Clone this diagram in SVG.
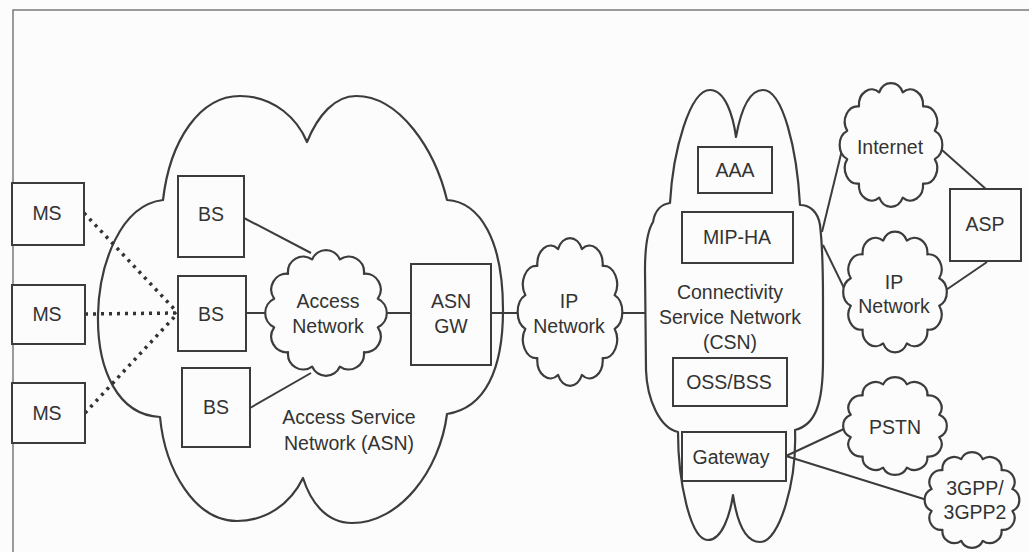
<svg xmlns="http://www.w3.org/2000/svg" xmlns:xlink="http://www.w3.org/1999/xlink" width="1029" height="552" viewBox="0 0 1029 552">
  <style>
    .frame { fill: none; stroke: #7a7a7a; stroke-width: 1.5; }
    .box { fill: #fcfcfc; stroke: #3c3c3c; stroke-width: 2; }
    .cloud { fill: #fcfcfc; stroke: #3c3c3c; stroke-width: 2.2; stroke-linejoin: round; }
    .big { fill: none; stroke: #3c3c3c; stroke-width: 2.2; stroke-linejoin: round; }
    .link { fill: none; stroke: #3c3c3c; stroke-width: 2; }
    .radio { fill: none; stroke: #333; stroke-width: 3.5; stroke-dasharray: 3 5; }
    text { font-family: "Liberation Sans", Arial, sans-serif; font-size: 19.5px; fill: #333; text-anchor: middle; dominant-baseline: central; }
  </style>
  <defs>
    <!-- scalloped cloud, outer radius about 50, centred on the origin -->
    <path id="cloud" class="cloud" vector-effect="non-scaling-stroke"
      d="M42.5,-11.39 A12.5,12.5 0 0 1 42.5,11.39 A12.5,12.5 0 0 1 31.11,31.11 A12.5,12.5 0 0 1 11.39,42.5 A12.5,12.5 0 0 1 -11.39,42.5 A12.5,12.5 0 0 1 -31.11,31.11 A12.5,12.5 0 0 1 -42.5,11.39 A12.5,12.5 0 0 1 -42.5,-11.39 A12.5,12.5 0 0 1 -31.11,-31.11 A12.5,12.5 0 0 1 -11.39,-42.5 A12.5,12.5 0 0 1 11.39,-42.5 A12.5,12.5 0 0 1 31.11,-31.11 A12.5,12.5 0 0 1 42.5,-11.39 Z"/>
  </defs>

  <rect width="1029" height="552" fill="#fcfcfc"/>
  <path class="frame" d="M13,552 L13,10 L1029,10"/>

  <!-- large domains -->
  <g id="asn">
    <path class="big" d="M163,200 C170,140 200,96 240,96 C275,96 298,120 307,142 C318,115 335,96 356,96 C400,96 435,150 447,200 C480,202 503,240 503,310 C503,370 485,408 447,414 C440,470 400,523 352,523 C325,523 310,500 303,478 C290,505 265,521 237,521 C195,521 165,470 160,417 C118,415 97,370 98,315 C99,265 120,205 163,200 Z"/>
    <text x="349" y="417">Access Service</text>
    <text x="349" y="443">Network (ASN)</text>
  </g>
  <g id="csn">
    <path class="big" d="M653,222 C655,210 662,204 670,203 C673,150 690,90 710,90 C725,90 733,115 736,137 C740,115 748,90 763,90 C783,90 797,150 800,205 C810,205 818,212 820,225 C823,250 823,270 823,300 L823,360 C823,405 815,425 795,430 C797,480 780,542 760,542 C743,542 736,515 733,495 C730,515 722,540 708,540 C690,540 678,480 678,432 C660,428 647,400 646,370 L645,270 C645,245 648,230 653,222 Z"/>
    <text x="730" y="292">Connectivity</text>
    <text x="730" y="317">Service Network</text>
    <text x="730" y="342">(CSN)</text>
  </g>

  <!-- connectors -->
  <g id="connectors">
    <path class="radio" d="M84,213 L178,313"/>
    <path class="radio" d="M85,314 L178,313"/>
    <path class="radio" d="M85,413 L178,313"/>
    <path class="link" d="M244,218 L311,253"/>
    <path class="link" d="M246,313 L266,313"/>
    <path class="link" d="M250,408 L311,373"/>
    <path class="link" d="M387,313 L411,313"/>
    <path class="link" d="M491,313 L519,313"/>
    <path class="link" d="M622,313 L645,313"/>
    <path class="link" d="M822,232 L842,150"/>
    <path class="link" d="M823,245 L845,290"/>
    <path class="link" d="M942,150 L987,190"/>
    <path class="link" d="M946,290 L987,262"/>
    <path class="link" d="M786,456 L846,428"/>
    <path class="link" d="M786,456 L927,500"/>
  </g>

  <!-- mobile stations -->
  <g id="ms1"><rect class="box" x="12" y="183" width="72" height="62"/><text x="47" y="213">MS</text></g>
  <g id="ms2"><rect class="box" x="12" y="285" width="73" height="59"/><text x="47" y="314">MS</text></g>
  <g id="ms3"><rect class="box" x="12" y="383" width="73" height="60"/><text x="47" y="413">MS</text></g>

  <!-- base stations -->
  <g id="bs1"><rect class="box" x="178" y="176" width="66" height="81"/><text x="211" y="214">BS</text></g>
  <g id="bs2"><rect class="box" x="178" y="276" width="68" height="75"/><text x="211" y="314">BS</text></g>
  <g id="bs3"><rect class="box" x="182" y="368" width="68" height="79"/><text x="216" y="407">BS</text></g>

  <g id="access-network">
    <use xlink:href="#cloud" transform="translate(326,313) scale(1.22,1.26)"/>
    <text x="328" y="301">Access</text>
    <text x="328" y="326">Network</text>
  </g>
  <g id="asn-gw">
    <rect class="box" x="411" y="264" width="80" height="101"/>
    <text x="451" y="301">ASN</text>
    <text x="451" y="326">GW</text>
  </g>
  <g id="ip-network-core">
    <use xlink:href="#cloud" transform="translate(570,312) scale(1.05,1.48)"/>
    <text x="569" y="301">IP</text>
    <text x="569" y="326">Network</text>
  </g>

  <!-- CSN functions -->
  <g id="aaa"><rect class="box" x="698" y="147" width="74" height="46"/><text x="735" y="170">AAA</text></g>
  <g id="mip-ha"><rect class="box" x="682" y="212" width="111" height="51"/><text x="737" y="237">MIP-HA</text></g>
  <g id="oss-bss"><rect class="box" x="673" y="358" width="114" height="48"/><text x="729" y="382">OSS/BSS</text></g>
  <g id="gateway"><rect class="box" x="682" y="432" width="104" height="49"/><text x="731" y="457">Gateway</text></g>

  <!-- external networks -->
  <g id="internet">
    <use xlink:href="#cloud" transform="translate(891,145) scale(1.03,1.24)"/>
    <text x="890" y="147">Internet</text>
  </g>
  <g id="ip-network-ext">
    <use xlink:href="#cloud" transform="translate(895,292) scale(1.04,1.21)"/>
    <text x="894" y="282">IP</text>
    <text x="894" y="306">Network</text>
  </g>
  <g id="asp"><rect class="box" x="950" y="189" width="71" height="72"/><text x="985" y="224">ASP</text></g>
  <g id="pstn">
    <use xlink:href="#cloud" transform="translate(895,426) scale(1.04,0.98)"/>
    <text x="895" y="427">PSTN</text>
  </g>
  <g id="3gpp">
    <use xlink:href="#cloud" transform="translate(972,500) scale(0.95,0.96)"/>
    <text x="975" y="488">3GPP/</text>
    <text x="975" y="512">3GPP2</text>
  </g>
</svg>
